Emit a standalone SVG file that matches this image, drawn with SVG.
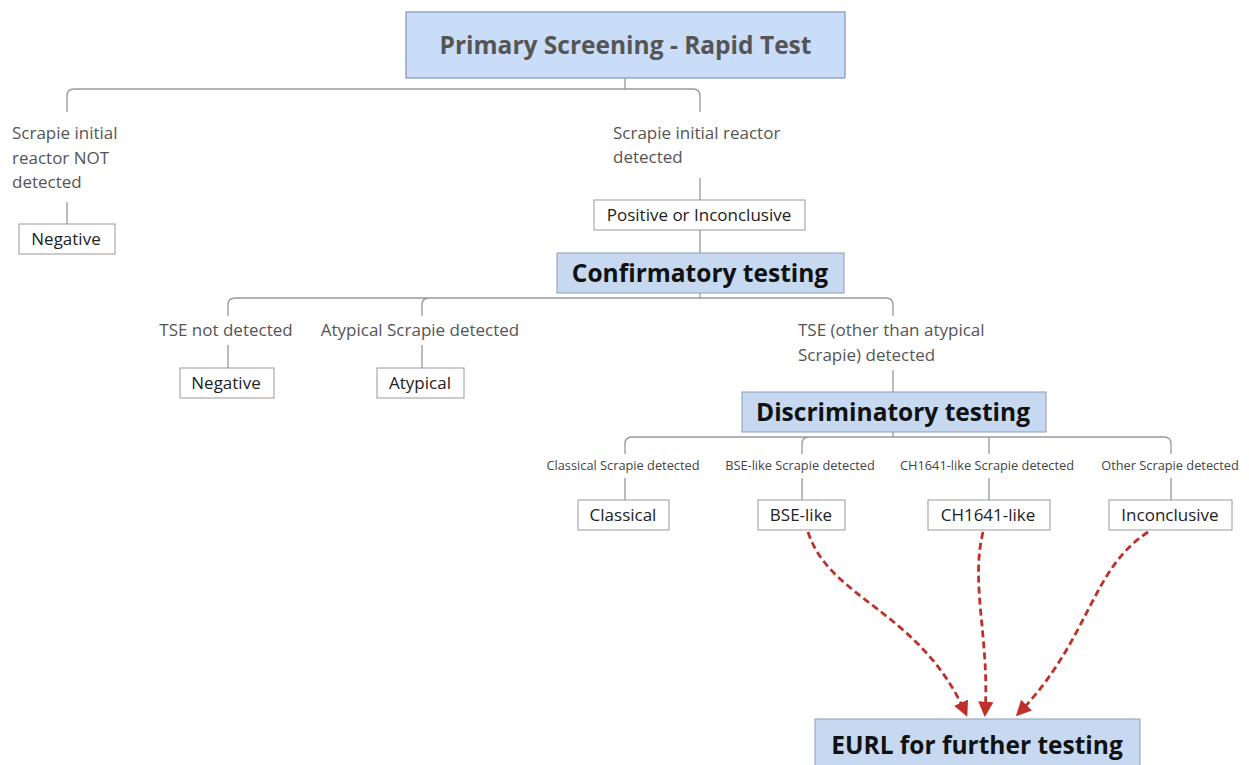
<svg xmlns="http://www.w3.org/2000/svg" width="1249" height="765" viewBox="0 0 1249 765">
<style>
.lbl{font-family:"Open Sans","Noto Sans",sans-serif;font-size:17px;fill:#555}
.sm{font-family:"Open Sans","Noto Sans",sans-serif;font-size:12.8px;fill:#444}
.bx{fill:#fff;stroke:#999;stroke-width:1}
.bt{font-family:"Open Sans","Noto Sans",sans-serif;font-size:17px;fill:#222;text-anchor:middle}
.hb{fill:#c6d9f0;stroke:#8c9db5;stroke-width:1}
.ht{font-family:"Open Sans","Noto Sans",sans-serif;font-size:24.5px;font-weight:bold;fill:#111;text-anchor:middle}
.ln{fill:none;stroke:#999;stroke-width:1.3}
.ar{fill:none;stroke:#c0302a;stroke-width:2.8;stroke-dasharray:7,4}
</style>
<defs>
<marker id="ah" viewBox="0 0 10 10" refX="8" refY="5" markerWidth="5.5" markerHeight="5.5" orient="auto" markerUnits="strokeWidth">
<path d="M0,0 L10,5 L0,10 z" fill="#c0302a"/>
</marker>
</defs>
<g id="connectors">
<path class="ln" d="M625,78 V89 M67,112 V96 Q67,89 74,89 H693 Q700,89 700,96 V112"/>
<path class="ln" d="M67,202 V224"/>
<path class="ln" d="M700,178 V200 M700,230 V253"/>
<path class="ln" d="M700,293 V298 M228,316 V305 Q228,298 235,298 H886 Q893,298 893,305 V316 M422,316 V305 Q422,298 429,298"/>
<path class="ln" d="M228,345 V368 M422,345 V368"/>
<path class="ln" d="M893,370 V392"/>
<path class="ln" d="M893,432 V437 M625,454 V444 Q625,437 632,437 H1164 Q1171,437 1171,444 V454 M802,454 V444 Q802,437 809,437 M989,454 V437"/>
<path class="ln" d="M625,478 V500 M802,478 V500 M989,478 V500 M1171,478 V500"/>
<path class="ar" marker-end="url(#ah)" d="M808,532 C830,600 920,610 966,714"/>
<path class="ar" marker-end="url(#ah)" d="M983,532 C970,585 990,640 985,714"/>
<path class="ar" marker-end="url(#ah)" d="M1148,532 C1090,570 1090,640 1018,714"/>
</g>
<g id="primary">
<rect x="406" y="12" width="439" height="66" fill="#c9dcf8" stroke="#7f95b8" stroke-width="1.2"/>
<text x="625.5" y="54" class="ht" style="fill:#555">Primary Screening - Rapid Test</text>
</g>
<g id="lbl-not-detected">
<text class="lbl" x="12" y="139">Scrapie initial</text>
<text class="lbl" x="12" y="164">reactor NOT</text>
<text class="lbl" x="12" y="188">detected</text>
</g>
<g id="neg1"><rect class="bx" x="19" y="224" width="96" height="30"/><text class="bt" x="66" y="245">Negative</text></g>
<g id="lbl-detected">
<text class="lbl" x="613" y="139">Scrapie initial reactor</text>
<text class="lbl" x="613" y="163">detected</text>
</g>
<g id="posinc"><rect class="bx" x="594" y="200" width="211" height="30"/><text class="bt" x="699" y="221">Positive or Inconclusive</text></g>
<g id="confirm"><rect class="hb" x="557" y="253" width="287" height="40"/><text class="ht" x="700" y="282">Confirmatory testing</text></g>
<g id="lbl-tse-not"><text class="lbl" x="226" y="336" text-anchor="middle">TSE not detected</text></g>
<g id="lbl-atyp"><text class="lbl" x="420" y="336" text-anchor="middle">Atypical Scrapie detected</text></g>
<g id="lbl-tse-other">
<text class="lbl" x="798" y="336">TSE (other than atypical</text>
<text class="lbl" x="798" y="361">Scrapie) detected</text>
</g>
<g id="neg2"><rect class="bx" x="180" y="368" width="94" height="30"/><text class="bt" x="226" y="389">Negative</text></g>
<g id="atyp"><rect class="bx" x="377" y="368" width="87" height="30"/><text class="bt" x="420" y="389">Atypical</text></g>
<g id="discrim"><rect class="hb" x="742" y="392" width="304" height="40"/><text class="ht" x="893" y="421">Discriminatory testing</text></g>
<g id="lbl-classical"><text class="sm" x="623" y="470" text-anchor="middle">Classical Scrapie detected</text></g>
<g id="lbl-bse"><text class="sm" x="800" y="470" text-anchor="middle">BSE-like Scrapie detected</text></g>
<g id="lbl-ch"><text class="sm" x="987" y="470" text-anchor="middle">CH1641-like Scrapie detected</text></g>
<g id="lbl-other"><text class="sm" x="1170" y="470" text-anchor="middle">Other Scrapie detected</text></g>
<g id="classical"><rect class="bx" x="578" y="500" width="91" height="30"/><text class="bt" x="623" y="521">Classical</text></g>
<g id="bse"><rect class="bx" x="758" y="500" width="87" height="30"/><text class="bt" x="801" y="521">BSE-like</text></g>
<g id="ch"><rect class="bx" x="928" y="500" width="122" height="30"/><text class="bt" x="988" y="521">CH1641-like</text></g>
<g id="inconc"><rect class="bx" x="1109" y="500" width="123" height="30"/><text class="bt" x="1170" y="521">Inconclusive</text></g>
<g id="eurl"><rect class="hb" x="815" y="719" width="325" height="60"/><text class="ht" x="977" y="754">EURL for further testing</text></g>
</svg>
